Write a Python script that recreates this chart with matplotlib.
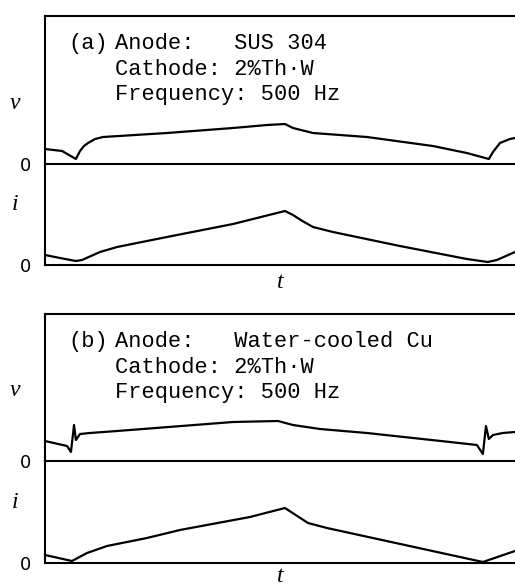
import matplotlib
matplotlib.use("Agg")
import matplotlib.pyplot as plt

# time in ms (500 Hz -> 2 ms period); v, i in arbitrary units
t_va = [0.000, 0.083, 0.150, 0.170, 0.189, 0.209, 0.243, 0.282, 0.592, 0.913, 1.078,
        1.165, 1.204, 1.301, 1.563, 1.883, 2.048, 2.155, 2.175, 2.209, 2.257, 2.282]
v_a = [15, 13, 5, 13, 18, 21, 25, 27, 31, 36, 39, 40, 36, 31, 27, 18, 11, 5, 12, 21, 25, 26]

t_ia = [0.000, 0.073, 0.150, 0.180, 0.267, 0.350, 0.592, 0.913, 1.165, 1.204, 1.250,
        1.301, 1.398, 1.723, 2.048, 2.150, 2.194, 2.282]
i_a = [10, 7, 4, 5, 13, 18, 28, 41, 54, 50, 44, 38, 33, 19, 6, 3, 5, 13]

t_vb = [0.000, 0.107, 0.126, 0.141, 0.150, 0.170, 0.218, 0.350, 0.913, 1.131, 1.204,
        1.335, 1.563, 1.966, 2.097, 2.126, 2.141, 2.155, 2.175, 2.223, 2.282]
v_b = [20, 15, 9, 36, 21, 27, 28, 30, 39, 40, 36, 32, 28, 19, 16, 7, 35, 22, 26, 28, 29]

t_ib = [0.000, 0.131, 0.204, 0.301, 0.495, 0.655, 0.995, 1.165, 1.277, 1.369, 2.126, 2.282]
i_b = [8, 2, 10, 17, 25, 33, 46, 55, 40, 35, 1, 12]

info_a = ["(a)", "Anode:   SUS 304", "Cathode: 2%Th\u00b7W", "Frequency: 500 Hz"]
info_b = ["(b)", "Anode:   Water-cooled Cu", "Cathode: 2%Th\u00b7W", "Frequency: 500 Hz"]

W, H = 515, 586
fig = plt.figure(figsize=(W / 100, H / 100), dpi=100)
LW = 1.5
t_max = 2.282


def px_rect(left, top, right, bottom):
    return [left / W, 1 - bottom / H, (right - left) / W, (bottom - top) / H]


def panel(top, vzero, bottom, tv, v, ti, i, info, vlab_y, ilab_y, tlab_y):
    ax_v = fig.add_axes(px_rect(45, top, 515, vzero))
    ax_i = fig.add_axes(px_rect(45, vzero, 515, bottom))
    ax_v.plot(tv, v, color="black", lw=1.6, solid_joinstyle="round")
    ax_i.plot(ti, i, color="black", lw=1.6, solid_joinstyle="round")
    ax_v.set_ylim(0, vzero - top)
    ax_i.set_ylim(0, bottom - vzero)
    for ax in (ax_v, ax_i):
        ax.set_xlim(0, t_max)
        ax.set_xticks([])
        ax.set_yticks([0])
        ax.set_yticklabels(["0"], fontsize=13, fontfamily="DejaVu Sans")
        ax.tick_params(axis="y", length=0, pad=10)
        ax.spines["right"].set_visible(False)
        for s in ax.spines.values():
            s.set_linewidth(LW)
        ax.patch.set_alpha(0)
    ax_i.spines["top"].set_visible(False)

    lab = dict(fontsize=17, fontfamily="Liberation Serif", fontstyle="italic")
    ax_v.set_ylabel("v", rotation=0, ha="center", va="center", **lab)
    ax_v.yaxis.set_label_coords(-30 / 470, (vzero - vlab_y) / (vzero - top))
    ax_i.set_ylabel("i", rotation=0, ha="center", va="center", **lab)
    ax_i.yaxis.set_label_coords(-30 / 470, (bottom - ilab_y) / (bottom - vzero))
    ax_i.set_xlabel("t", va="center", **lab)
    ax_i.xaxis.set_label_coords(235 / 470, (bottom - tlab_y) / (bottom - vzero))

    base = [top + 33, top + 59, top + 84]
    fig.text(68 / W, 1 - base[0] / H, info[0], fontsize=15.8,
             fontfamily="Liberation Mono", va="baseline")
    for txt, y in zip(info[1:], base):
        fig.text(115 / W, 1 - y / H, txt, fontsize=15.8,
                 fontfamily="Liberation Mono", va="baseline")


panel(16, 164, 265, t_va, v_a, t_ia, i_a, info_a, 104, 205, 282)
panel(314, 461, 563, t_vb, v_b, t_ib, i_b, info_b, 390, 502, 576)

fig.savefig("out.png", dpi=100)
